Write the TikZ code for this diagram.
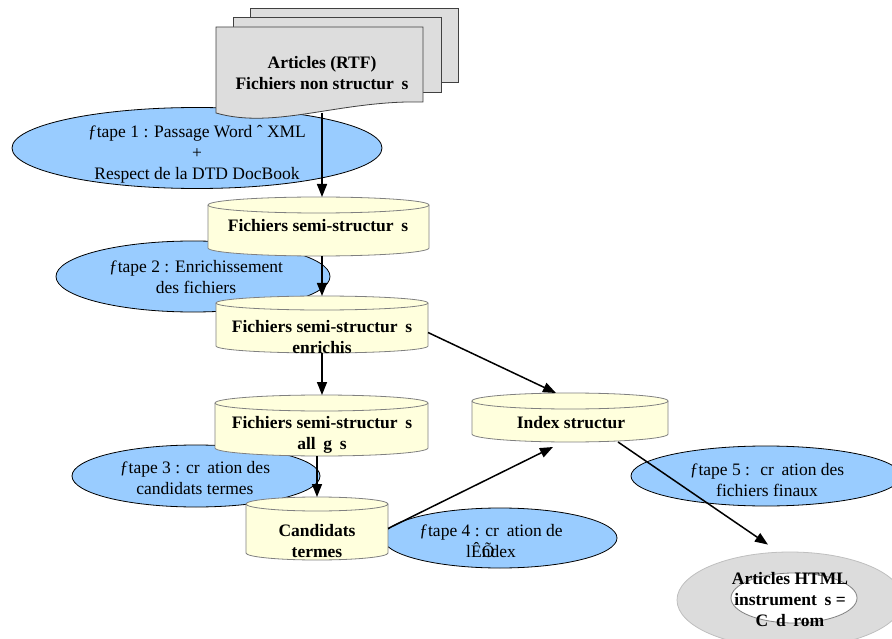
\documentclass[tikz,border=0pt]{standalone}
\usepackage{fontspec}
\setmainfont{Liberation Serif}
\usetikzlibrary{shapes.geometric, arrows.meta, positioning}
\definecolor{StepBlue}{HTML}{99CCFF}
\definecolor{StoreYellow}{HTML}{FFFFDD}
\definecolor{PageGray}{HTML}{DDDDDD}
\definecolor{EdgeGray}{HTML}{808080}
\definecolor{DiscGray}{HTML}{DCDCDC}
\newcommand{\egap}{\hspace{0.44em}}
% cylinder drawn over an empty box node: name, half width, end radius
\newcommand{\dbdraw}[3]{%
  \filldraw[dbline] ([yshift=-#3]#1.north west) -- ([yshift=#3]#1.south west)
    arc[start angle=180, end angle=360, x radius=#2, y radius=#3]
    -- ([yshift=-#3]#1.north east)
    arc[start angle=0, end angle=180, x radius=#2, y radius=#3] -- cycle;
  \draw[dbline, fill=none] ([yshift=-#3]#1.north west)
    arc[start angle=180, end angle=360, x radius=#2, y radius=#3];
}

\begin{document}
\begin{tikzpicture}[x=1pt, y=-1pt,
    txt/.style={align=center, inner sep=0pt, font=\fontsize{17.5}{21}\selectfont},
    btxt/.style={txt, font=\fontsize{17.5}{21}\selectfont\bfseries},
    stepell/.style={ellipse, draw=black, line width=0.8pt, fill=StepBlue, inner sep=0pt},
    dbbox/.style={inner sep=0pt, outer sep=0pt},
    dbline/.style={draw=EdgeGray, line width=0.8pt, fill=StoreYellow},
    page/.style={draw=black!75, line width=0.8pt, fill=PageGray},
    flow/.style={line width=1.5pt, -{Triangle[length=13pt, width=10pt]}}]
    \useasboundingbox (0,0) rectangle (892,639);
    \clip (0,0) rectangle (892,639);

    % steps
    \node[stepell, minimum width=370pt, minimum height=81pt] (step1) at (197,148) {};
    \node[stepell, minimum width=274pt, minimum height=71pt] (step2) at (193,276.5) {};
    \node[stepell, minimum width=248pt, minimum height=62pt] (step3) at (196,476) {};
    \node[stepell, minimum width=234pt, minimum height=60pt] (step4) at (500,538) {};
    \node[stepell, minimum width=270pt, minimum height=60pt] (step5) at (766,476) {};

    % source documents
    \filldraw[page] (250,8) rectangle (458,82);
    \filldraw[page] (233,17) rectangle (441,92);
    \filldraw[page] (216,27) -- (216,113) .. controls (275,130) and (340,100) .. (423,102)
        -- (423,27) -- cycle;
    \coordinate (docfoot) at (322,113);

    % stores
    \node[dbbox, minimum width=221pt, minimum height=59pt] (fs1) at (318.5,226.5) {};
    \dbdraw{fs1}{110.5pt}{8pt}
    \node[dbbox, minimum width=212pt, minimum height=57pt] (fs2) at (322,324.5) {};
    \dbdraw{fs2}{106pt}{7pt}
    \node[dbbox, minimum width=213pt, minimum height=61pt] (fs3) at (321.5,425.5) {};
    \dbdraw{fs3}{106.5pt}{8pt}
    \node[dbbox, minimum width=196pt, minimum height=49pt] (idx) at (570,417.5) {};
    \dbdraw{idx}{98pt}{8pt}
    \node[dbbox, minimum width=142pt, minimum height=63pt] (cand) at (317,528.5) {};
    \dbdraw{cand}{71pt}{7pt}

    % cd-rom
    \node[ellipse, draw=black!25, line width=0.8pt, fill=DiscGray, inner sep=0pt,
          minimum width=226pt, minimum height=96pt] (cd) at (790,600) {};
    \node[ellipse, draw=EdgeGray, line width=0.8pt, fill=white, inner sep=0pt,
          minimum width=126pt, minimum height=50pt] (cdhole) at (794,598) {};

    % labels
    \node[btxt] (doctxt) at (322,73) {Articles (RTF)\\Fichiers non structur\egap s};
    \node[txt] (step1txt) at (197,154) {ƒtape 1 : Passage Word ˆ XML\\+\\Respect de la DTD DocBook};
    \node[txt] (step2txt) at (196,277) {ƒtape 2 : Enrichissement\\des fichiers};
    \node[txt] (step3txt) at (195,478) {ƒtape 3 : cr\egap ation des\\candidats termes};
    \node[txt] (step4txt) at (491,541) {ƒtape 4 : cr\egap ation de\\lÊ\rlap{Õ}ndex};
    \node[txt] (step5txt) at (767,480) {ƒtape 5 : \ cr\egap ation des\\fichiers finaux};
    \node[btxt] (fs1txt) at (318,226) {Fichiers semi-structur\egap s};
    \node[btxt] (fs2txt) at (322,337) {Fichiers semi-structur\egap s\\enrichis};
    \node[btxt] (fs3txt) at (322,434.5) {Fichiers semi-structur\egap s\\all\egap g\egap s};
    \node[btxt] (idxtxt) at (571,423) {Index structur};
    \node[btxt] (candtxt) at (317,541.5) {Candidats\\termes};
    \node[btxt] (cdtxt) at (790,600) {Articles HTML\\instrument\egap s =\\C\egap d\egap rom};

    % flow
    \draw[flow] (docfoot) -- (docfoot |- fs1.north);
    \draw[flow] (fs2.north |- fs1.south) -- (fs2.north);
    \draw[flow] (fs2.south) -- (fs2.south |- fs3.north);
    \draw[flow] ([yshift=-8pt]fs2.east) -- ([xshift=-14pt]idx.north);
    \draw[flow] (cand.north |- fs3.south) -- (cand.north);
    \draw[flow] (cand.east) -- ([xshift=-17pt,yshift=-5pt]idx.south);
    \draw[flow] ([xshift=48pt]idx.south) -- ([xshift=-22pt,yshift=7pt]cd.north);
\end{tikzpicture}
\end{document}
